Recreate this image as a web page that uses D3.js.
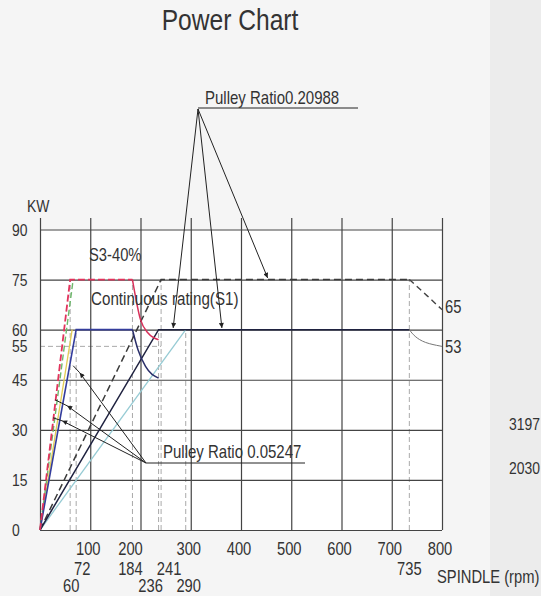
<!DOCTYPE html>
<html>
<head>
<meta charset="utf-8">
<script src="https://cdn.jsdelivr.net/npm/d3@7"></script>
<style>
  body { margin: 0; background: #f4f4f4; }
  text { font-family: "Liberation Sans", Arial, sans-serif; fill: #333; }
</style>
</head>
<body>
<div id="chart"></div>
<script>
// axis values
var kwTicks = [0, 15, 30, 45, 60, 75, 90];
var kwLabels = [0, 15, 30, 45, 55, 60, 75, 90];
var rpmTicks = [0, 100, 200, 300, 400, 500, 600, 700, 800];
var rpmLabels = [100, 200, 300, 400, 500, 600, 700, 800];

// characteristic speeds (rpm) and the power level their guide line reaches
var speedMarks = [60, 72, 184, 236, 241, 290, 735];
var speedTop = [75, 60, 75, 60, 75, 60, 75];
var kwGuide = 55, kwGuideEnd = 241;

// curves [rpm, kW]
var s3Low = [[0, 0], [60, 75], [184, 75], [200, 63], [215, 59], [236, 57]];
var s3LowGreen = [[0, 0], [66, 75]];
var s1LowYellow = [[0, 0], [64, 60]];
var s1Low = [[0, 0], [72, 60], [184, 60], [195, 54], [210, 49], [236, 45.5]];
var s3High = [[0, 0], [241, 75], [735, 75]];
var s3Tail = [[735, 75], [770, 70.2], [800, 66]];
var s1High = [[0, 0], [236, 60], [735, 60]];
var s1Tail = [[735, 60], [745, 58], [765, 56], [800, 55]];
var s1HighCyan = [[0, 0], [290, 60]];

// end values, extra numbers on the right
var tailLabels = ["65", "53"];
var sideNumbers = ["3197", "2030"];

// arrows of the two pulley notes
var highTips = [[265, 60.5], [362, 60.5], [453, 75.5]];
var lowHeads = [[54, 37.2], [44, 32.7], [79, 47.1]];
var lowEnds = [[30, 39], [26, 33.6], [66, 49.2]];

var width = 541, height = 596;
var squeeze = 0.82; // the scan uses a narrow typeface

var svg = d3.select("#chart").append("svg")
    .attr("width", width)
    .attr("height", height);

svg.append("rect").attr("width", width).attr("height", height).attr("fill", "#f5f5f5");
svg.append("rect").attr("x", 490).attr("width", 51).attr("height", height).attr("fill", "#ececec");

var x = d3.scaleLinear().domain([0, 800]).range([40, 442]);
var y = d3.scaleLinear().domain([0, 90]).range([530, 229.5]);

svg.append("rect")
    .attr("x", x(0)).attr("y", y(90))
    .attr("width", x(800) - x(0)).attr("height", y(0) - y(90))
    .attr("fill", "#fff");

svg.append("defs").append("marker")
    .attr("id", "arr")
    .attr("viewBox", "0 0 10 10")
    .attr("refX", 10).attr("refY", 5)
    .attr("markerUnits", "userSpaceOnUse")
    .attr("markerWidth", 11).attr("markerHeight", 5)
    .attr("orient", "auto")
    .append("path").attr("d", "M0,0L10,5L0,10z").attr("fill", "#222");

// guide lines
var guides = svg.append("g").attr("stroke", "#aaa").attr("stroke-width", 1).attr("stroke-dasharray", "5,3");
guides.selectAll("line.v")
    .data(speedMarks)
    .join("line").attr("class", "v")
    .attr("x1", d => x(d)).attr("x2", d => x(d))
    .attr("y1", y(0)).attr("y2", (d, i) => y(speedTop[i]));
guides.append("line")
    .attr("x1", x(0)).attr("x2", x(kwGuideEnd))
    .attr("y1", y(kwGuide)).attr("y2", y(kwGuide));

// grid
svg.append("g")
    .attr("transform", `translate(0,${y(0)})`)
    .call(d3.axisBottom(x).tickValues(rpmTicks).tickSize(-(y(0) - 218)).tickFormat(""))
    .call(g => g.select(".domain").remove())
    .call(g => g.selectAll("line").attr("stroke", "#444").attr("stroke-width", 1.2));

svg.append("g")
    .attr("transform", `translate(${x(0)},0)`)
    .call(d3.axisLeft(y).tickValues(kwTicks).tickSize(-(x(800) - x(0))).tickFormat(""))
    .call(g => g.select(".domain").remove())
    .call(g => g.selectAll("line").attr("stroke", "#444").attr("stroke-width", 1.2));

// curves
var line = d3.line().x(d => x(d[0])).y(d => y(d[1]));
var smooth = d3.line().x(d => x(d[0])).y(d => y(d[1])).curve(d3.curveMonotoneX);

function draw(data, color, w, dash, gen) {
    svg.append("path")
        .datum(data)
        .attr("d", gen || line)
        .attr("fill", "none")
        .attr("stroke", color)
        .attr("stroke-width", w)
        .attr("stroke-dasharray", dash || null);
}

draw(s1HighCyan, "#96cbd4", 1.3);
draw(s3High, "#3a3a3a", 1.5, "7,4");
draw(s1High, "#1f2240", 1.5);
draw(s1LowYellow, "#e3cc55", 1.3);
draw(s3LowGreen, "#6cb86a", 1.4, "6,3");
draw(s1Low.slice(0, 3), "#343d9c", 1.6);
draw(s1Low.slice(2), "#2a2f6a", 1.5, null, smooth);
draw(s3Low.slice(0, 3), "#e2335c", 1.8, "7,3");
draw(s3Low.slice(2), "#d8305a", 1.5, null, smooth);
draw(s3Tail, "#444", 1.4, "6,4", smooth);
draw(s1Tail, "#777", 1, null, d3.line().x(d => x(d[0])).y(d => y(d[1])).curve(d3.curveBasis));

// narrow text: placed with a transform, squeezed horizontally
function place(px, py) { return `translate(${px},${py}) scale(${squeeze},1)`; }
function label(px, py, str, size, anchor) {
    return svg.append("text")
        .attr("transform", place(px, py))
        .attr("font-size", size)
        .attr("text-anchor", anchor || "start")
        .text(str);
}

// tick labels
svg.append("g").selectAll("text")
    .data(kwLabels)
    .join("text")
    .attr("transform", d => place(12, y(d) + 6))
    .attr("font-size", 17)
    .text(d => d);

var rpmNudge = { 200: -8 };
svg.append("g").selectAll("text")
    .data(rpmLabels)
    .join("text")
    .attr("transform", d => place(x(d) - 2 + (rpmNudge[d] || 0), 555))
    .attr("text-anchor", "middle")
    .attr("font-size", 18)
    .text(d => d);

// speed labels under the axis: row and offset per label
var speedRow = { 60: 592, 72: 575, 184: 575, 236: 592, 241: 575, 290: 592, 735: 575 };
var speedNudge = { 60: 1, 72: 6, 184: -2, 236: -8, 241: 8, 290: 3, 735: 0 };
svg.append("g").selectAll("text")
    .data(speedMarks)
    .join("text")
    .attr("transform", d => place(x(d) + speedNudge[d], speedRow[d]))
    .attr("text-anchor", "middle")
    .attr("font-size", 18)
    .text(d => d);

label(230, 30, "Power Chart", 30, "middle");
label(27, 212, "KW", 17);
label(437, 583, "SPINDLE (rpm)", 18);
label(89, 261, "S3-40%", 18);
label(91, 305, "Continuous rating(S1)", 18.5);

svg.append("g").selectAll("text")
    .data(tailLabels)
    .join("text")
    .attr("transform", (d, i) => place(445, [313, 353][i]))
    .attr("font-size", 18)
    .text(d => d);

svg.append("g").selectAll("text")
    .data(sideNumbers)
    .join("text")
    .attr("transform", (d, i) => place(509, [430, 474][i]))
    .attr("font-size", 17)
    .text(d => d);

// pulley ratio notes
var note = svg.append("g").attr("stroke", "#222").attr("stroke-width", 1).attr("fill", "none");
note.append("line").attr("x1", 198).attr("x2", 358).attr("y1", 108).attr("y2", 108);
note.selectAll("line.hi")
    .data(highTips)
    .join("line").attr("class", "hi")
    .attr("x1", 198).attr("y1", 109)
    .attr("x2", d => x(d[0])).attr("y2", d => y(d[1]))
    .attr("marker-end", "url(#arr)");
label(205, 104, "Pulley Ratio0.20988", 18.3);

note.append("line").attr("x1", 146).attr("x2", 305).attr("y1", 463).attr("y2", 463);
note.selectAll("path.lo")
    .data(lowHeads)
    .join("path").attr("class", "lo")
    .attr("d", (d, i) => `M146,463L${x(d[0])},${y(d[1])}L${x(lowEnds[i][0])},${y(lowEnds[i][1])}`)
    .attr("marker-mid", "url(#arr)");
label(163, 458, "Pulley Ratio 0.05247", 18.3);
</script>
</body>
</html>
